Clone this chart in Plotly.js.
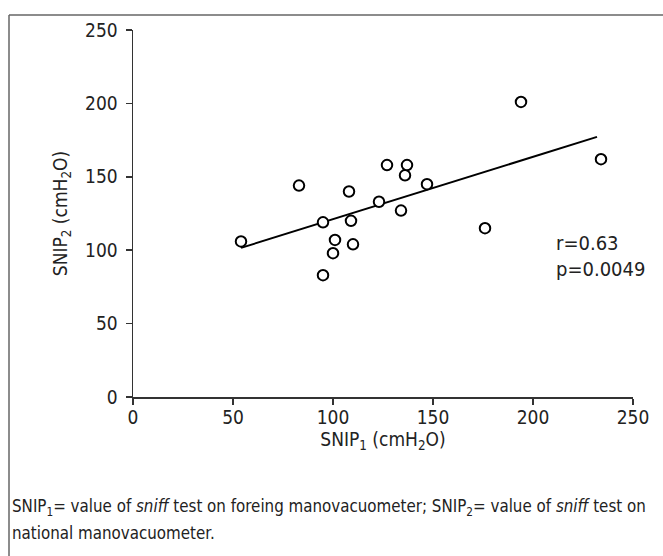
<!DOCTYPE html>
<html>
<head>
<meta charset="utf-8">
<script src="https://cdn.plot.ly/plotly-3.0.1.min.js"></script>
<style>
html,body{margin:0;padding:0;background:#fff;}
#chart{width:663px;height:556px;}
</style>
</head>
<body>
<div id="chart"></div>
<script>
// SNIP1 (foreign manovacuometer) vs SNIP2 (national manovacuometer), cmH2O
const snip1 = [54, 83, 95, 95, 100, 101, 108, 109, 110, 123, 127, 136, 137, 134, 147, 176, 194, 234];
const snip2 = [106, 144, 119, 83, 98, 107, 140, 120, 104, 133, 158, 151, 158, 127, 145, 115, 201, 162];
// regression line end points
const fitX = [54, 232];
const fitY = [101.6, 177.2];
const tickVals = [0, 50, 100, 150, 200, 250];
const tickText = ['0', '50', '100', '150', '200', '250'];
const statsText = ['r=0.63', 'p=0.0049'];

const FONT = '"DejaVu Sans Condensed", "Liberation Sans", sans-serif';

const traces = [
  {
    x: fitX, y: fitY, type: 'scatter', mode: 'lines',
    line: {color: '#000', width: 2}, hoverinfo: 'skip', showlegend: false
  },
  {
    x: snip1, y: snip2, type: 'scatter', mode: 'markers',
    marker: {symbol: 'circle', size: 10.5, color: '#fff', line: {color: '#000', width: 2}},
    showlegend: false, cliponaxis: false
  }
];

const L = 133, T = 30, W = 500, H = 367;
function px(x) { return (x - L) / W; }
function py(y) { return (T + H - y) / H; }

const layout = {
  width: 663, height: 556,
  margin: {l: L, r: 663 - L - W, t: T, b: 556 - T - H, pad: 0},
  paper_bgcolor: '#fff', plot_bgcolor: '#fff',
  font: {family: FONT, color: '#222', size: 19},
  showlegend: false,
  xaxis: {
    range: [0, 250], tickvals: tickVals, ticktext: tickText,
    showgrid: false, zeroline: false, showline: true, linecolor: '#333', linewidth: 1.5,
    ticks: 'outside', ticklen: 6, tickwidth: 1.5, tickcolor: '#333',
    tickfont: {family: FONT, size: 19, color: '#222'},
    ticklabelstandoff: -3,
    title: {text: 'SNIP<sub>1</sub> (cmH<sub>2</sub>O)', font: {family: FONT, size: 19, color: '#222'}, standoff: 4}
  },
  yaxis: {
    range: [0, 250], tickvals: tickVals, ticktext: tickText,
    showgrid: false, zeroline: false, showline: true, linecolor: '#333', linewidth: 1.5,
    ticks: 'outside', ticklen: 6, tickwidth: 1.5, tickcolor: '#333',
    tickfont: {family: FONT, size: 19, color: '#222'},
    ticklabelstandoff: 4,
    title: {text: 'SNIP<sub>2</sub> (cmH<sub>2</sub>O)', font: {family: FONT, size: 19, color: '#222'}, standoff: 12}
  },
  annotations: [
    {
      x: 210.5, y: 96, xref: 'x', yref: 'y', xanchor: 'left', yanchor: 'middle', align: 'left',
      text: statsText.join('<br>'), showarrow: false,
      font: {family: FONT, size: 20, color: '#222'}
    },
    {
      x: px(10), y: py(508), xref: 'paper', yref: 'paper', xanchor: 'left', yanchor: 'middle', align: 'left',
      text: 'SNIP<sub>1</sub>= value of <i>sniff</i> test on foreing manovacuometer; SNIP<sub>2</sub>= value of <i>sniff</i> test on',
      showarrow: false, font: {family: FONT, size: 16.8, color: '#222'}
    },
    {
      x: px(10), y: py(533), xref: 'paper', yref: 'paper', xanchor: 'left', yanchor: 'middle', align: 'left',
      text: 'national manovacuometer.',
      showarrow: false, font: {family: FONT, size: 16.8, color: '#222'}
    }
  ],
  shapes: [
    {type: 'line', xref: 'paper', yref: 'paper', x0: px(9), x1: px(9), y0: py(570), y1: py(15), line: {color: '#666', width: 1.5}},
    {type: 'line', xref: 'paper', yref: 'paper', x0: px(9), x1: px(680), y0: py(15), y1: py(15), line: {color: '#666', width: 1.5}}
  ]
};

Plotly.newPlot('chart', traces, layout, {displayModeBar: false, staticPlot: true});
</script>
</body>
</html>
